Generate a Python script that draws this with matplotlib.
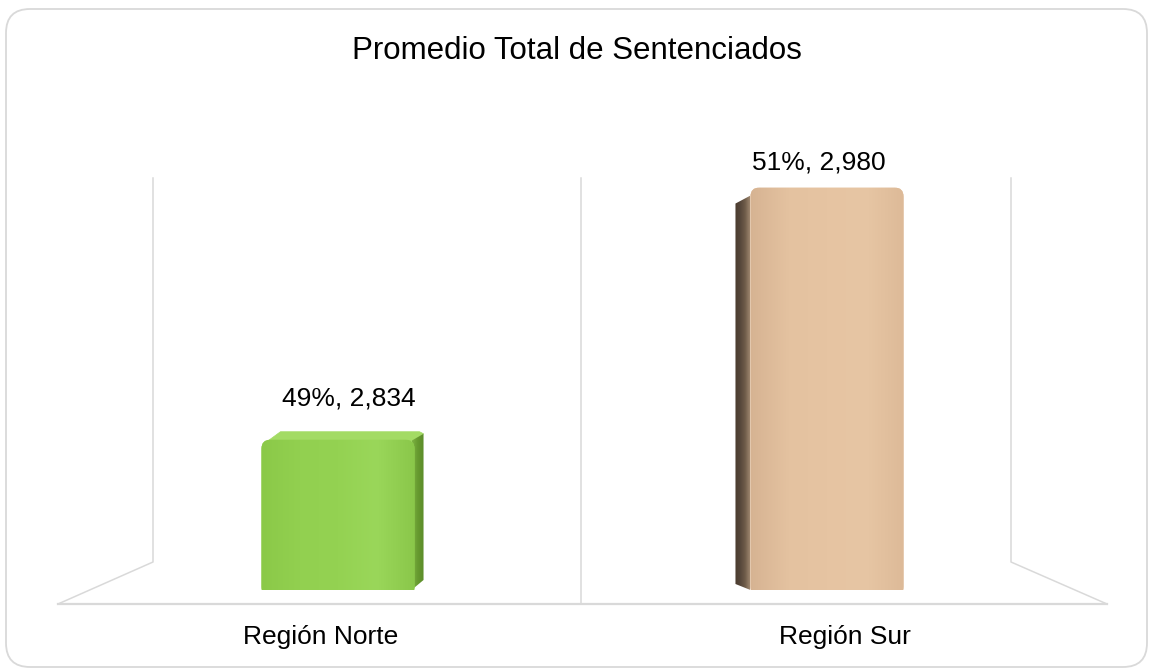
import numpy as np
import matplotlib.pyplot as plt
from matplotlib.patches import Polygon, FancyBboxPatch
from matplotlib.colors import LinearSegmentedColormap

plt.rcParams['font.family'] = ['Liberation Sans', 'DejaVu Sans']

# datos
regiones = ['Región Norte', 'Región Sur']
sentenciados = [2834, 2980]
porcentajes = [49, 51]
titulo = 'Promedio Total de Sentenciados'

# estilo de cada barra
frente = [['#8BC948', '#92D050', '#94D252', '#9AD75A', '#8AC74A'],
          ['#D6B392', '#E4C2A0', '#E6C4A2', '#E7C6A4', '#DDBA98']]
lateral = [['#7DB342', '#66992F', '#5C8D2A'],
           ['#4A3B2E', '#55463A', '#6E5B49', '#9C856D']]
tapa = ['#A3DB64', '#E9CBAB']
# desplazamiento de la cara lateral en px: (dx, dy arriba, dy abajo)
prof = [(9, -8, -10), (-15, 12, -6)]
etiqueta_off = [(11, 34), (-8, 18)]

W, H = 1153, 672
fig = plt.figure(figsize=(W / 100, H / 100), dpi=100)


def caja(x0, y0, x1, y1):
    # caja en px (origen arriba a la izquierda) -> rect de figura
    return [x0 / W, 1 - y1 / H, (x1 - x0) / W, (y1 - y0) / H]


def degradado(eje, verts, colores, z=2, recorte=None):
    poly = Polygon(verts, closed=True, fc='none', ec='none', zorder=z)
    eje.add_patch(poly)
    cmap = LinearSegmentedColormap.from_list('g', colores)
    img = np.linspace(0, 1, 256)[None, :]
    xs = [v[0] for v in verts]
    ys = [v[1] for v in verts]
    im = eje.imshow(img, cmap=cmap, extent=(min(xs), max(xs), max(ys), min(ys)),
                    aspect='auto', origin='upper', interpolation='bilinear', zorder=z)
    im.set_clip_path(recorte if recorte is not None else poly)


# fondo: marco y paredes
deco = fig.add_axes([0, 0, 1, 1])
deco.set_xlim(0, W)
deco.set_ylim(H, 0)
deco.axis('off')
gris = '#D9D9D9'
deco.add_patch(FancyBboxPatch((6, 9), 1141, 658, boxstyle='round,pad=0,rounding_size=24',
                              fc='white', ec=gris, lw=1.3, zorder=0))
deco.plot([153, 153, 58], [178, 562, 604], color=gris, lw=1.1, zorder=1)
deco.plot([1011, 1011, 1107], [178, 562, 604], color=gris, lw=1.1, zorder=1)
deco.plot([581, 581], [178, 604], color=gris, lw=1.1, zorder=1)

# barras
ax = fig.add_axes(caja(93.5, 153, 1071.5, 590))
ax.patch.set_alpha(0)
ymin, ymax = 2747, 3000
x = np.arange(len(regiones))
ancho = 0.313
barras = ax.bar(x, sentenciados, width=ancho, color=[c[1] for c in frente], zorder=2)
ax.set_xlim(-0.5, 1.5)
ax.set_ylim(ymin, ymax)
ax.axis('off')

a_px = deco.transData.inverted()
for i, b in enumerate(barras):
    v = sentenciados[i]
    # esquinas de la cara frontal en px
    (x0, yb), (x1, yt) = a_px.transform(ax.transData.transform([(i - ancho / 2, ymin),
                                                                 (i + ancho / 2, v)]))
    # cara frontal con esquinas redondeadas
    redondo = FancyBboxPatch((x0, yt), x1 - x0, yb - yt + 6,
                             boxstyle='round,pad=0,rounding_size=9', transform=deco.transData)
    b.set_clip_path(redondo)
    degradado(ax, [(i - ancho / 2, ymin), (i + ancho / 2, ymin),
                   (i + ancho / 2, v), (i - ancho / 2, v)], frente[i], z=3, recorte=redondo)
    dx, dyt, dyb = prof[i]
    if dx > 0:
        lado = [(x1 - 3, yb), (x1 + dx, yb + dyb), (x1 + dx, yt + dyt + 2), (x1 - 3, yt + 1)]
        deco.add_patch(Polygon([(x0 + 6, yt + 1.5), (x1 - 3, yt + 1.5), (x1 + dx, yt + dyt + 2),
                                (x1 + dx - 4, yt + dyt), (x0 + dx + 10, yt + dyt)],
                               closed=True, fc=tapa[i], ec=tapa[i], lw=0.5, zorder=2))
    else:
        lado = [(x0, yb), (x0 + dx, yb + dyb), (x0 + dx, yt + dyt + 4), (x0, yt + 8)]
    degradado(deco, lado, lateral[i], z=2)
    ax.annotate(f'{porcentajes[i]}%, {v:,}', xy=(i, v), xytext=etiqueta_off[i],
                textcoords='offset pixels', ha='center', va='baseline', fontsize=19)

deco.set_xlim(0, W)
deco.set_ylim(H, 0)
ax.set_xlim(-0.5, 1.5)
ax.set_ylim(ymin, ymax)

# piso frontal y categorías
piso = fig.add_axes(caja(58, 580, 1107, 604))
piso.patch.set_alpha(0)
for s in ['top', 'left', 'right']:
    piso.spines[s].set_visible(False)
piso.spines['bottom'].set_color(gris)
piso.spines['bottom'].set_linewidth(1.6)
piso.set_xlim(-0.5, 1.5)
piso.set_xticks(x)
piso.set_xticklabels(regiones, fontsize=19)
piso.tick_params(axis='x', length=0, pad=15)
piso.set_yticks([])

fig.text(577 / W, 1 - 59 / H, titulo, ha='center', va='baseline', fontsize=22.5)

fig.savefig('out.png', dpi=100)
